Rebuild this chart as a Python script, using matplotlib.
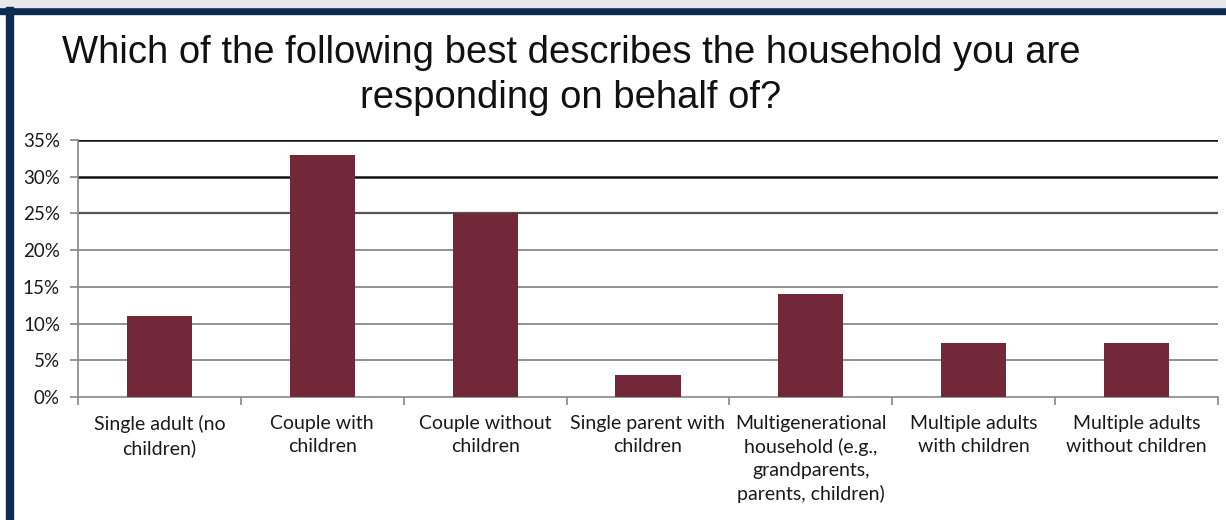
import matplotlib.pyplot as plt
from matplotlib.patches import Rectangle

categories = [
    "Single adult (no\nchildren)",
    "Couple with\nchildren",
    "Couple without\nchildren",
    "Single parent with\nchildren",
    "Multigenerational\nhousehold (e.g.,\ngrandparents,\nparents, children)",
    "Multiple adults\nwith children",
    "Multiple adults\nwithout children",
]
shares = [11, 33, 25, 3, 14, 7.3, 7.3]
yticks = [0, 5, 10, 15, 20, 25, 30, 35]
title_lines = ["Which of the following best describes the household you are",
               "responding on behalf of?"]

BAR = "#722839"
NAVY = "#0c2c54"
W, H = 1226, 520

fig = plt.figure(figsize=(W / 100, H / 100), dpi=100)
fig.patch.set_facecolor("white")

# frame strips top and left
fig.add_artist(Rectangle((0, 1 - 13.5 / H), 1, 6.5 / H, transform=fig.transFigure,
                         color=NAVY, zorder=5))
fig.add_artist(Rectangle((0, 1 - 7 / H), 1, 7 / H, transform=fig.transFigure,
                         color="#e6e8ec", zorder=5))
fig.add_artist(Rectangle((6 / W, 0), 6.5 / W, 1 - 7 / H, transform=fig.transFigure,
                         color=NAVY, zorder=5))

ax = fig.add_axes([78 / W, 1 - 397 / H, 1140 / W, 257 / H])
x = list(range(len(categories)))
ax.bar(x, shares, width=0.4, color=BAR, zorder=3)

ax.set_xlim(-0.5, len(categories) - 0.5)
ax.set_ylim(0, 35)
ax.set_yticks(yticks)
ax.set_yticklabels([f"{v}%" for v in yticks], fontfamily="Lato", fontsize=13.5,
                   color="#1a1a1a")

for v in yticks[1:]:
    if v >= 30:
        ax.axhline(v, color="#111111", lw=1.8, zorder=1)
    elif v == 25:
        ax.axhline(v, color="#555555", lw=1.6, zorder=1)
    else:
        ax.axhline(v, color="#8a8a8a", lw=1.3, zorder=1)

ax.set_xticks(x)
ax.set_xticklabels(categories, fontfamily="Lato", fontsize=14, linespacing=1.4,
                   color="#1a1a1a")
ax.tick_params(axis="x", length=0, pad=13)
ax.set_xticks([i - 0.5 for i in range(len(categories) + 1)], minor=True)
ax.tick_params(axis="x", which="minor", length=6, color="#888888", width=1.2)
ax.tick_params(axis="y", length=6, color="#888888", width=1.2, pad=7)

for s in ["top", "right"]:
    ax.spines[s].set_visible(False)
for s in ["left", "bottom"]:
    ax.spines[s].set_color("#888888")
    ax.spines[s].set_linewidth(1.2)

for line, base in zip(title_lines, [63, 108]):
    fig.text(571 / W, 1 - base / H, line, ha="center", va="baseline",
             fontfamily="Liberation Sans", fontsize=27.5, color="#111111")

fig.savefig("out.png", dpi=100)
